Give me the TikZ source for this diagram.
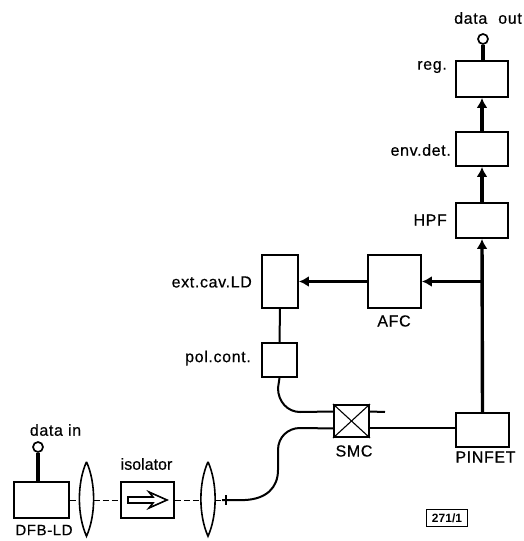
\documentclass[tikz,border=0pt]{standalone}
\usepackage{fontspec}
\setmainfont{Liberation Sans}
\usetikzlibrary{arrows.meta,calc}
\newcommand{\lblfont}{\fontsize{16}{18}\selectfont\addfontfeatures{LetterSpace=4,FakeBold=0.5}}
\tikzset{
  box/.style={draw,line width=1.9pt,inner sep=0pt,fill=white},
  lbl/.style={inner sep=0pt,font=\lblfont},
  term/.style={draw,circle,line width=1.7pt,minimum size=10pt,inner sep=0pt,fill=white},
  thin fibre/.style={line width=2pt},
  thick line/.style={line width=3.4pt},
  fat arrow/.style={thick line,-{Latex[length=10pt,width=11pt]}},
  beam/.style={line width=1pt,dash pattern=on 6pt off 3pt},
  lens/.style={inner sep=0pt,minimum width=14pt,minimum height=74pt},
  lensline/.style={line width=1.6pt}
}
\begin{document}
\begin{tikzpicture}[x=1pt,y=-1pt]
\useasboundingbox (0,0) rectangle (523,541);
% boxes
\node[box,minimum width=52pt,minimum height=36pt] (reg) at (482,79) {};
\node[box,minimum width=52pt,minimum height=34pt] (env) at (482,149) {};
\node[box,minimum width=52pt,minimum height=35pt] (hpf) at (482,220.5) {};
\node[box,minimum width=53pt,minimum height=53pt] (afc) at (394.5,281.5) {};
\node[box,minimum width=36pt,minimum height=53pt] (ext) at (280,281.5) {};
\node[box,minimum width=35pt,minimum height=34pt] (pol) at (279.5,360) {};
\node[box,minimum width=35pt,minimum height=32pt] (smc) at (351.5,421) {};
\node[box,minimum width=53pt,minimum height=34pt] (pin) at (482.5,430) {};
\node[box,minimum width=55pt,minimum height=36pt] (dfb) at (41.5,500) {};
\node[box,minimum width=53pt,minimum height=36pt] (iso) at (147.5,500) {};
\node[lens] (l1) at (86.5,499) {};
\node[lens] (l2) at (208,499) {};
\node[term] (din) at (38,447) {};
\node[term] (dout) at (483,39) {};
% coordinates
\coordinate (branch) at (pin.north |- afc.east);
\coordinate (smcinA) at ($(smc.north west)!0.22!(smc.south west)$);
\coordinate (smcinB) at ($(smc.north west)!0.72!(smc.south west)$);
\coordinate (smcoutA) at ($(smc.north east)!0.22!(smc.south east)$);
\coordinate (smcoutB) at ($(smc.north east)!0.72!(smc.south east)$);
\coordinate (stub) at (385,412);
\coordinate (tick) at (222,500);
\coordinate (tmark) at (226,500);
\coordinate (ticktop) at (226,495);
\coordinate (tickbot) at (226,505);
% lenses
\foreach \l in {l1,l2}{
  \draw[lensline,line join=miter] (\l.north) .. controls ($(\l.east)+(2.3,-16)$) and ($(\l.east)+(2.3,16)$) .. (\l.south)
                  .. controls ($(\l.west)+(-2.3,16)$) and ($(\l.west)+(-2.3,-16)$) .. (\l.north);
}
% beams
\draw[beam] (dfb.east) -- (l1.west |- dfb.east) ;
\draw[beam] (l1.east |- iso.west) -- (iso.west);
\draw[beam] (iso.east) -- (l2.west |- iso.east);
\draw[beam] (l2.east |- iso.east) -- (tick);
% isolator arrow
\draw[line width=1.6pt,line join=miter] (128,497) -- (153,497) -- (149,492) -- (167,500) -- (149,508) -- (153,503) -- (128,503) -- cycle;
% thin connectors
\draw[line width=1.4pt] (ticktop) -- (tickbot);
\draw[thin fibre] (tick) -- (245,500) .. controls (266,499) and (278,488) .. (278,470)
   -- (278,450) .. controls (278,437) and (288,428) .. (300,428) -- (smcinB);
\draw[thin fibre] (pol.south) -- (278,388) .. controls (278,402) and (288,412) .. (300,412) -- (smcinA);
\draw[thin fibre] (smcoutA) -- (stub);
\draw[thin fibre] (smcoutB) -- (pin.west |- smcoutB);
\draw[thin fibre] (ext.south) -- (pol.north);
\draw[line width=1.1pt] (smc.north west) -- (smc.south east);
\draw[line width=1.1pt] (smc.north east) -- (smc.south west);
% thick connectors
\draw[fat arrow] (pin.north) -- (hpf.south);
\draw[fat arrow] (hpf.north) -- (env.south);
\draw[fat arrow] (env.north) -- (reg.south);
\draw[fat arrow] (branch) -- (afc.east);
\draw[fat arrow] (afc.west) -- (ext.east);
\draw[thick line] (din) -- (din |- dfb.north);
\draw[thick line] (dout) -- (dout |- reg.north);
% labels
\node[lbl,anchor=east] (tout) at (522,18) {data\hspace{11pt}out};
\node[lbl,anchor=east] (treg) at (447,67) {reg.};
\node[lbl,anchor=east] (tenv) at (451,150) {env.det.};
\node[lbl,anchor=east] (thpf) at (447,220) {HPF};
\node[lbl,anchor=east] (text) at (252,282) {ext.cav.LD};
\node[lbl] (tafc) at (394,321) {AFC};
\node[lbl,anchor=east] (tpol) at (251,358) {pol.cont.};
\node[lbl] (tsmc) at (354,451) {SMC};
\node[lbl] (tpin) at (485.5,457) {PINFET};
\node[lbl] (tin) at (55.5,430) {data in};
\node[lbl,font=\fontsize{16}{18}\selectfont\addfontfeatures{FakeBold=0.5}] (tiso) at (146.5,464) {isolator};
\node[lbl,font=\fontsize{15}{17}\selectfont\addfontfeatures{LetterSpace=4,FakeBold=0.5}] (tdfb) at (44,530) {DFB-LD};
\node[draw,line width=1.4pt,inner sep=1.5pt,minimum width=41pt,minimum height=17pt,font=\fontsize{12}{13}\selectfont\bfseries] (fig) at (447,518) {271/1};
\end{tikzpicture}
\end{document}
